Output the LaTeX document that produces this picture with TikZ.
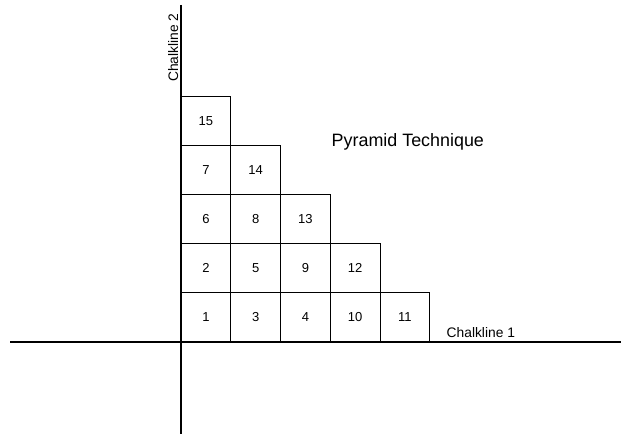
\documentclass[tikz,border=0pt]{standalone}
\usepackage{fontspec}
\setmainfont{Liberation Sans}
\begin{document}
\begin{tikzpicture}[x=1pt,y=-1pt,
  cell/.style={draw=black,line width=0.9pt,rectangle,minimum width=49.75pt,minimum height=49.15pt,inner sep=0pt,font=\fontsize{13}{15}\selectfont},
  axis/.style={draw=black,line width=1.4pt},
  lbl/.style={inner sep=0pt,font=\fontsize{13.8}{16}\selectfont}]
\useasboundingbox (0,0) rectangle (621,435);
% axes
\coordinate (hL) at (10,342);
\coordinate (hR) at (621,342);
\coordinate (vT) at (181,5);
\coordinate (vB) at (181,434);
\draw[axis] (hL) -- (hR);
\draw[axis] (vT) -- (vB);
% cells: centre x = 181 + 49.75*(i+0.5), centre y = 342 - 49.15*(j+0.5)
\foreach \lab/\i/\j in {1/0/0,3/1/0,4/2/0,10/3/0,11/4/0,
                        2/0/1,5/1/1,9/2/1,12/3/1,
                        6/0/2,8/1/2,13/2/2,
                        7/0/3,14/1/3,
                        15/0/4}{
  \node[cell] (c\lab) at ({181+49.75*(\i+0.5)},{342-49.15*(\j+0.5)}) {\lab};
}
% labels
\node[lbl,anchor=base west] (ch1) at (446.5,338) {Chalkline 1};
\node[lbl,anchor=base west,rotate=90] (ch2) at (178,82) {Chalkline 2};
\node[inner sep=0pt,anchor=base west,font=\fontsize{17.9}{20}\selectfont] (title) at (331.5,146.5) {Pyramid Technique};
\end{tikzpicture}
\end{document}
